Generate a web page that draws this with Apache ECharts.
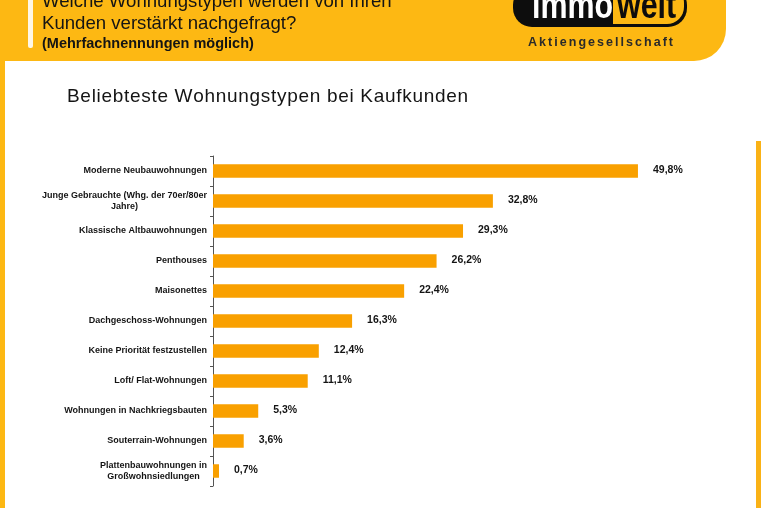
<!DOCTYPE html>
<html><head><meta charset="utf-8">
<script src="https://cdn.jsdelivr.net/npm/echarts@6/dist/echarts.min.js"></script>
<style>html,body{margin:0;padding:0;background:#fff}#c{width:762px;height:508px}</style>
</head><body><div id="c"></div>
<script>
const categories = [
  'Moderne Neubauwohnungen',
  'Junge Gebrauchte (Whg. der 70er/80er\nJahre)',
  'Klassische Altbauwohnungen',
  'Penthouses',
  'Maisonettes',
  'Dachgeschoss-Wohnungen',
  'Keine Priorität festzustellen',
  'Loft/ Flat-Wohnungen',
  'Wohnungen in Nachkriegsbauten',
  'Souterrain-Wohnungen',
  'Plattenbauwohnungen in\nGroßwohnsiedlungen'
];
const values = [49.8, 32.8, 29.3, 26.2, 22.4, 16.3, 12.4, 11.1, 5.3, 3.6, 0.7];
const headerLines = ['Welche Wohnungstypen werden von Ihren', 'Kunden verstärkt nachgefragt?'];
const headerNote = '(Mehrfachnennungen möglich)';
const chartTitle = 'Beliebteste Wohnungstypen bei Kaufkunden';
const logoLeft = 'immo';
const logoRight = 'welt';
const logoSub = 'Aktiengesellschaft';

const ORANGE = '#FDB813', BAR = '#F9A000', INK = '#141414';
const SANS = '"Liberation Sans", Arial, sans-serif';
const mctx = document.createElement('canvas').getContext('2d');

function spaced(str, x, y, font, target, fill) {
  mctx.font = font;
  const chars = Array.from(str);
  const widths = chars.map(c => mctx.measureText(c).width);
  const sum = widths.reduce((a, b) => a + b, 0);
  const gap = (target - sum) / (chars.length - 1);
  let cx = x;
  const out = [];
  chars.forEach((c, i) => {
    out.push({ type: 'text', x: cx, y: y, z: 10,
      style: { text: c, font: font, fill: fill, textAlign: 'left', textVerticalAlign: 'middle', align: 'left', verticalAlign: 'middle' } });
    cx += widths[i] + gap;
  });
  return out;
}
function txt(str, x, y, font, fill, extra) {
  return Object.assign({ type: 'text', x: x, y: y, z: 10,
    style: { text: str, font: font, fill: fill, textAlign: 'left', textVerticalAlign: 'middle', align: 'left', verticalAlign: 'middle' } }, extra || {});
}

const graphics = [
  { type: 'rect', z: 1, shape: { x: 0, y: -30, width: 726, height: 91, r: [0, 32, 32, 0] }, style: { fill: ORANGE } },
  { type: 'rect', z: 1, shape: { x: 0, y: 0, width: 5, height: 508 }, style: { fill: ORANGE } },
  { type: 'rect', z: 2, shape: { x: 5, y: 61, width: 40, height: 30, r: [9, 0, 0, 0] }, style: { fill: '#ffffff' } },
  { type: 'rect', z: 2, shape: { x: 28, y: -5, width: 5, height: 53, r: 2 }, style: { fill: '#FFF7E6' } },
  { type: 'rect', z: 2, shape: { x: 756, y: 141, width: 5, height: 367 }, style: { fill: '#FAB216' } },
  // logo
  { type: 'rect', z: 3, shape: { x: 513, y: -14, width: 174, height: 41, r: 19 }, style: { fill: '#0d0d0d' } },
  { type: 'rect', z: 4, shape: { x: 613, y: -14, width: 71, height: 38, r: [0, 17, 17, 0] }, style: { fill: ORANGE } },
  txt(logoLeft, 532, 8, 'bold 38px ' + SANS, '#ffffff', { scaleX: 0.8 }),
  txt(logoRight, 617, 8, 'bold 38px ' + SANS, '#0d0d0d', { scaleX: 0.8 }),
  txt(headerLines[0], 42, 1.5, '18.6px ' + SANS, INK),
  txt(headerLines[1], 42, 24, '18.6px ' + SANS, INK),
  txt(headerNote, 42, 43.5, 'bold 14.5px ' + SANS, INK)
].concat(
  spaced(logoSub, 528, 43, 'bold 12.5px ' + SANS, 145, '#2a2a2a'),
  spaced(chartTitle, 67, 96.8, '19px ' + SANS, 401, INK)
);

const chart = echarts.init(document.getElementById('c'), null, { renderer: 'canvas' });
chart.setOption({
  animation: false,
  backgroundColor: '#ffffff',
  graphic: graphics,
  grid: { left: 213, top: 156, width: 512, height: 330, containLabel: false, outerBoundsMode: 'none' },
  xAxis: { type: 'value', min: 0, max: 60, show: false, splitLine: { show: false } },
  yAxis: {
    type: 'category', inverse: true, data: categories,
    axisLine: { show: true, lineStyle: { color: '#555', width: 1 } },
    axisTick: { show: true, length: 3, lineStyle: { color: '#555' } },
    axisLabel: {
      margin: 6, color: INK, fontFamily: SANS, fontWeight: 'bold', fontSize: 9, lineHeight: 11,
      formatter: v => v.split('\n').map(l => '{c|' + l + '}').join('\n'),
      rich: { c: { align: 'center', fontFamily: SANS, fontWeight: 'bold', fontSize: 9, lineHeight: 11, color: INK } }
    },
    splitLine: { show: false }
  },
  series: [{
    type: 'bar', data: values, barWidth: 13.5,
    itemStyle: { color: BAR },
    label: {
      show: true, position: 'right', distance: 15, offset: [0, -1],
      formatter: p => p.value.toFixed(1).replace('.', ',') + '%',
      fontFamily: SANS, fontWeight: 'bold', fontSize: 10.5, color: INK
    }
  }]
});
</script></body></html>
